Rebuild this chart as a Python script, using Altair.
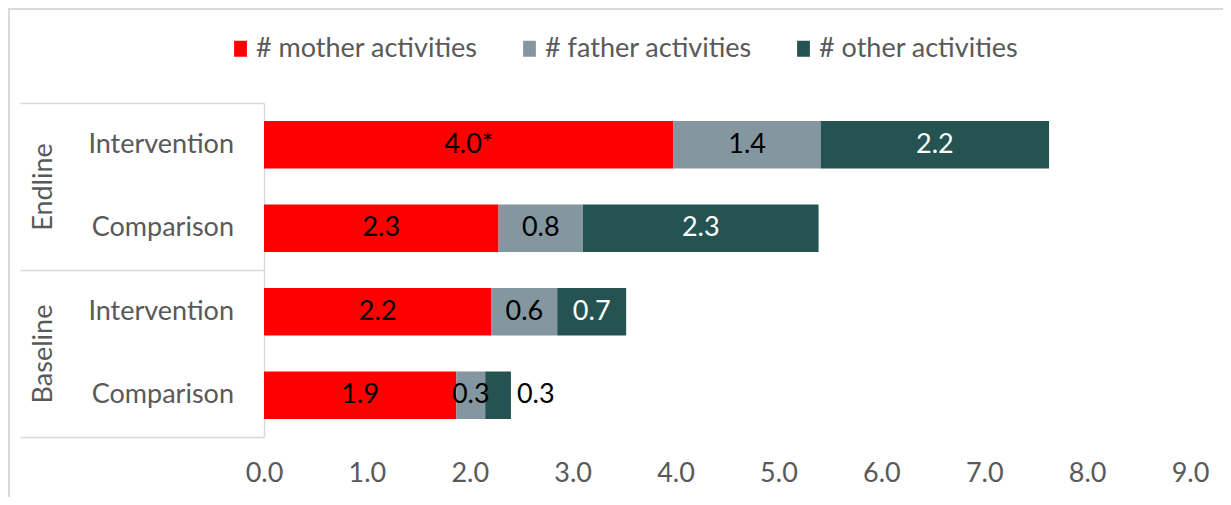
import altair as alt
import pandas as pd

# ---- data ----
groups = ["Endline", "Endline", "Baseline", "Baseline"]
arms = ["Intervention", "Comparison", "Intervention", "Comparison"]
series_names = ["# mother activities", "# father activities", "# other activities"]
mother = [3.98, 2.28, 2.21, 1.87]
father = [1.43, 0.82, 0.64, 0.28]
other = [2.22, 2.29, 0.67, 0.25]
mother_lbl = ["4.0*", "2.3", "2.2", "1.9"]
father_lbl = ["1.4", "0.8", "0.6", "0.3"]
other_lbl = ["2.2", "2.3", "0.7", "0.3"]
x_ticks = [0, 1, 2, 3, 4, 5, 6, 7, 8, 9]
colors = ["#FF0000", "#8497A0", "#255352"]

rows = []
for k, (vals, lbls) in enumerate([(mother, mother_lbl), (father, father_lbl), (other, other_lbl)]):
    for g, a, v, l in zip(groups, arms, vals, lbls):
        rows.append({"group": g, "arm": a, "series": series_names[k], "order": k, "value": v, "label": l})
df = pd.DataFrame(rows)

FONT = "Lato"
GRAY = "#595959"
LINE = "#D9D9D9"
W, H = 926, 334
PAD = {"left": 256, "top": 95, "right": 33, "bottom": 60}

y_enc = alt.Y("group:N", sort=["Endline", "Baseline"], title=None,
              scale=alt.Scale(paddingInner=0, paddingOuter=0),
              axis=alt.Axis(labelAngle=270, labelAlign="center", labelBaseline="middle",
                            labelPadding=-23, tickSize=244, tickBand="extent",
                            tickColor=LINE, tickWidth=1.5, domainColor=LINE, domainWidth=1.5,
                            labelFont=FONT, labelFontSize=27, labelColor=GRAY, grid=False))
yoff_enc = alt.YOffset("arm:N", sort=["Intervention", "Comparison"],
                       scale=alt.Scale(paddingInner=0.434, paddingOuter=0.217))
x_scale = alt.Scale(domain=[0, 9], nice=False)

base = alt.Chart(df)

bars = base.mark_bar(stroke=None).encode(
    y=y_enc,
    yOffset=yoff_enc,
    x=alt.X("value:Q", stack="zero", scale=x_scale, title=None,
            axis=alt.Axis(values=x_ticks, format=".1f", grid=False, domain=False, ticks=False,
                          labelFlush=False, labelOverlap=False,
                          labelFont=FONT, labelFontSize=27, labelColor=GRAY, labelPadding=23)),
    color=alt.Color("series:N", sort=series_names,
                    scale=alt.Scale(domain=series_names, range=colors),
                    legend=alt.Legend(orient="none", direction="horizontal", title=None,
                                      legendX=-37, legendY=-68,
                                      symbolType="M-0.8,-1H0.8V1H-0.8Z", symbolSize=256,
                                      symbolStrokeWidth=0, labelFont=FONT, labelFontSize=27,
                                      labelColor=GRAY, labelOffset=2, columnPadding=38,
                                      labelLimit=400)),
    order=alt.Order("order:Q"),
)

stacked = base.transform_stack(
    stack="value", as_=["x0", "x1"], groupby=["group", "arm"], sort=[alt.SortField("order")]
).transform_calculate(
    xm="(datum.x0 + datum.x1) / 2",
    outside="datum.order == 2 && datum.value < 0.3",
)

inside_txt = stacked.transform_filter("!datum.outside").mark_text(
    font=FONT, fontSize=27, baseline="middle", align="center"
).encode(
    y=alt.Y("group:N", sort=["Endline", "Baseline"]),
    yOffset=yoff_enc,
    x=alt.X("xm:Q", scale=x_scale),
    text="label:N",
    color=alt.condition("datum.order == 2", alt.value("white"), alt.value("black")),
)

outside_txt = stacked.transform_filter("datum.outside").mark_text(
    font=FONT, fontSize=27, baseline="middle", align="left", dx=6, color="black"
).encode(
    y=alt.Y("group:N", sort=["Endline", "Baseline"]),
    yOffset=yoff_enc,
    x=alt.X("x1:Q", scale=x_scale),
    text="label:N",
)

arm_lbl = base.transform_filter("datum.order == 0").mark_text(
    font=FONT, fontSize=27, baseline="middle", align="right", color=GRAY
).encode(
    y=alt.Y("group:N", sort=["Endline", "Baseline"]),
    yOffset=yoff_enc,
    x=alt.value(-30),
    text="arm:N",
)

frame = alt.Chart(pd.DataFrame({"f": [0]})).mark_rect(
    filled=False, stroke=LINE, strokeWidth=2
).encode(
    x=alt.value(-PAD["left"] + 1), x2=alt.value(W + 200),
    y=alt.value(-PAD["top"] + 1), y2=alt.value(H + 200),
)

chart = alt.layer(frame, bars, inside_txt, outside_txt, arm_lbl).properties(
    width=W, height=H,
    autosize=alt.AutoSizeParams(type="none"),
    padding=PAD,
    background="white",
).configure(font=FONT).configure_view(stroke=None)

chart.save("out.html", embed_options={"renderer": "svg", "actions": False})
